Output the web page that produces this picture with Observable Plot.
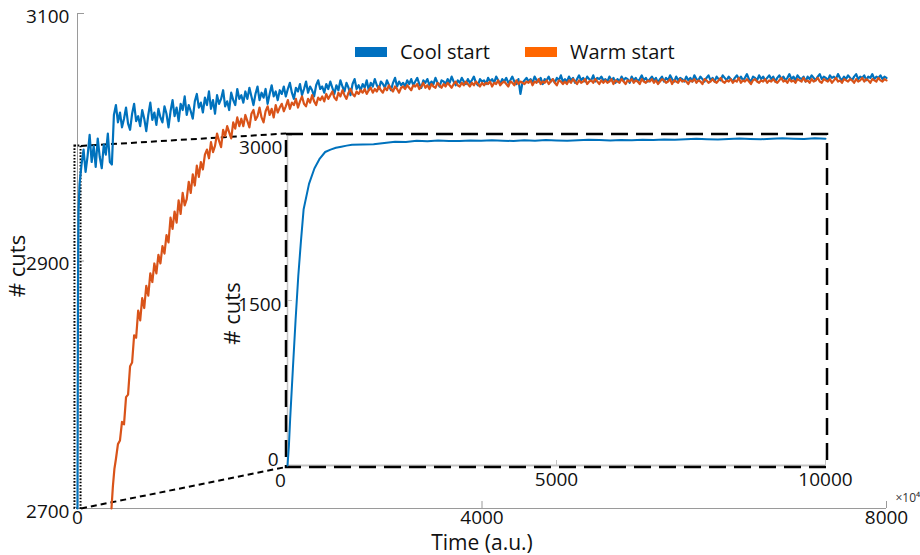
<!DOCTYPE html>
<html>
<head>
<meta charset="utf-8">
<script src="https://cdn.jsdelivr.net/npm/d3@7"></script>
<script src="https://cdn.jsdelivr.net/npm/@observablehq/plot@0.6"></script>
<style>
  body { margin: 0; background: #fff; }
  #wrap { position: relative; width: 920px; height: 555px; font-family: "Open Sans", sans-serif; }
  #wrap svg { position: absolute; left: 0; top: 0; background: transparent; overflow: visible; }
  .leg { position: absolute; top: 38px; display: flex; align-items: center; font-size: 20px; color: #111; white-space: nowrap; }
  .leg span.sw { display: inline-block; width: 32px; height: 10px; margin-right: 13px; }
</style>
</head>
<body>
<div id="wrap">
  <div class="leg" style="left:355px"><span class="sw" style="background:#0070C0"></span><span id="l1"></span></div>
  <div class="leg" style="left:525px"><span class="sw" style="background:#FF6600"></span><span id="l2"></span></div>
</div>
<script>
// ---------- data ----------
const seriesNames = ["Cool start", "Warm start"];
const seriesColors = ["#0072BD", "#D95319"];

const xTicks = [0, 4000, 8000];
const yTicks = [2700, 2900, 3100];
const xDomain = [0, 8000];
const yDomain = [2700, 3100];

// Cool start: initial rise, then a sample every 20 time units from t = 20
const coolEarlyT = [0, 5, 10];
const coolEarlyV = [2700, 2880, 2940];
const coolT0 = 20;
const coolStep = 20;
const coolV = [
  2962, 2978, 2990, 2972, 2985, 3002, 2980, 2993, 2976, 2999, 2984, 2975, 2994, 2986, 3003, 2980, 2978, 3018, 3026, 3012,
  3020, 3008, 3015, 3024, 3011, 3006, 3019, 3027, 3013, 3017, 3009, 3022, 3015, 3005, 3018, 3028, 3014, 3020, 3010, 3023,
  3016, 3012, 3025, 3019, 3008, 3021, 3030, 3017, 3024, 3013, 3027, 3022, 3033, 3018, 3026, 3021, 3015, 3029, 3035, 3024,
  3028, 3020, 3032, 3026, 3037, 3023, 3030, 3019, 3034, 3027, 3031, 3038, 3025, 3029, 3022, 3036, 3030, 3026, 3039, 3031,
  3034, 3028, 3037, 3031, 3040, 3033, 3026, 3035, 3041, 3030, 3036, 3032, 3039, 3027, 3035, 3042, 3033, 3037, 3030, 3038,
  3035, 3041, 3033, 3039, 3044, 3036, 3031, 3040, 3037, 3043, 3034, 3039, 3045, 3036, 3041, 3038, 3033, 3042, 3046, 3039,
  3041, 3036, 3043, 3039, 3045, 3040, 3035, 3042, 3038, 3046, 3041, 3037, 3044, 3040, 3034, 3043, 3047, 3039, 3042, 3038,
  3043, 3040, 3046, 3038, 3044, 3041, 3047, 3042, 3039, 3045, 3043, 3040, 3046, 3042, 3038, 3044, 3048, 3041, 3045, 3042,
  3044, 3041, 3046, 3043, 3047, 3042, 3045, 3048, 3043, 3040, 3046, 3044, 3047, 3042, 3045, 3043, 3048, 3044, 3041, 3046,
  3045, 3043, 3047, 3044, 3049, 3045, 3042, 3046, 3044, 3048, 3045, 3043, 3047, 3044, 3046, 3049, 3044, 3042, 3047, 3045,
  3046, 3043, 3048, 3045, 3047, 3044, 3049, 3046, 3043, 3047, 3045, 3048, 3044, 3046, 3049, 3045, 3043, 3047, 3035, 3044,
  3046, 3048, 3045, 3047, 3044, 3049, 3046, 3045, 3048, 3043, 3047, 3046, 3049, 3045, 3047, 3044, 3048, 3046, 3050, 3045,
  3047, 3045, 3049, 3046, 3048, 3044, 3047, 3050, 3046, 3048, 3045, 3049, 3047, 3046, 3050, 3045, 3048, 3047, 3049, 3046,
  3047, 3045, 3049, 3046, 3048, 3044, 3047, 3045, 3049, 3046, 3048, 3047, 3044, 3049, 3046, 3048, 3045, 3047, 3050, 3046,
  3048, 3045, 3047, 3049, 3046, 3048, 3044, 3047, 3049, 3045, 3048, 3046, 3050, 3047, 3045, 3049, 3046, 3048, 3047, 3045,
  3049, 3046, 3048, 3045, 3050, 3047, 3046, 3049, 3047, 3045, 3048, 3050, 3046, 3048, 3045, 3049, 3047, 3046, 3050, 3048,
  3046, 3049, 3047, 3045, 3048, 3050, 3047, 3049, 3046, 3048, 3051, 3047, 3045, 3049, 3048, 3046, 3050, 3047, 3049, 3046,
  3048, 3050, 3047, 3049, 3045, 3048, 3050, 3047, 3049, 3046, 3048, 3051, 3047, 3049, 3046, 3050, 3048, 3047, 3049, 3045,
  3049, 3047, 3050, 3048, 3046, 3049, 3051, 3047, 3049, 3048, 3046, 3050, 3048, 3049, 3047, 3051, 3048, 3046, 3049, 3047,
  3050, 3048, 3046, 3049, 3051, 3047, 3049, 3048, 3050, 3046, 3049, 3048, 3051, 3047, 3049, 3048, 3050, 3047, 3049, 3048
];

// Warm start: enters the view at t = 336, then a sample every 20 from t = 420
const warmEarlyT = [336, 350, 365, 380, 400];
const warmEarlyV = [2700, 2718, 2732, 2740, 2752];
const warmT0 = 420;
const warmStep = 20;
const warmV = [
  2755, 2770, 2768, 2790, 2792, 2815, 2818, 2840, 2838, 2860, 2852, 2870, 2862, 2880, 2872, 2890, 2883, 2898, 2890, 2905,
  2898, 2912, 2906, 2921, 2915, 2935, 2926, 2940, 2931, 2949, 2938, 2955, 2945, 2950, 2964, 2955, 2970, 2961, 2977, 2968,
  2980, 2974, 2986, 2990, 2983, 2996, 2988, 2993, 3003, 2997, 2992, 3006, 3001, 3009, 3004, 2999, 3012, 3007, 3016, 3009,
  3015, 3009, 3018, 3013, 3008, 3019, 3022, 3014, 3017, 3024, 3016, 3012, 3021, 3025, 3018, 3023, 3016, 3026, 3020, 3024,
  3027, 3021, 3025, 3030, 3023, 3028, 3026, 3031, 3024, 3029, 3033, 3027, 3025, 3031, 3028, 3034, 3029, 3026, 3032, 3030,
  3033, 3029, 3035, 3031, 3034, 3037, 3032, 3030, 3036, 3033, 3038, 3034, 3031, 3036, 3039, 3035, 3033, 3037, 3035, 3038,
  3036, 3039, 3035, 3038, 3040, 3036, 3039, 3037, 3041, 3038, 3036, 3040, 3038, 3042, 3039, 3037, 3041, 3039, 3036, 3040,
  3041, 3039, 3042, 3040, 3038, 3042, 3041, 3043, 3039, 3041, 3044, 3040, 3042, 3039, 3043, 3041, 3040, 3044, 3042, 3040,
  3043, 3041, 3044, 3042, 3040, 3043, 3045, 3042, 3041, 3044, 3042, 3045, 3043, 3041, 3044, 3042, 3045, 3043, 3041, 3044,
  3042, 3044, 3043, 3045, 3041, 3044, 3043, 3046, 3042, 3044, 3045, 3043, 3041, 3045, 3044, 3042, 3046, 3043, 3045, 3044,
  3043, 3045, 3044, 3046, 3042, 3045, 3044, 3047, 3043, 3045, 3044, 3046, 3043, 3045, 3047, 3044, 3042, 3046, 3045, 3043,
  3045, 3043, 3046, 3044, 3047, 3045, 3043, 3046, 3044, 3045, 3047, 3043, 3045, 3046, 3044, 3047, 3045, 3043, 3046, 3044,
  3046, 3044, 3045, 3047, 3043, 3046, 3045, 3044, 3047, 3045, 3043, 3046, 3045, 3047, 3044, 3046, 3045, 3043, 3047, 3045,
  3044, 3046, 3045, 3047, 3044, 3046, 3043, 3045, 3047, 3046, 3044, 3045, 3047, 3043, 3046, 3045, 3044, 3047, 3045, 3046,
  3045, 3043, 3046, 3045, 3047, 3044, 3046, 3045, 3043, 3047, 3046, 3044, 3045, 3047, 3045, 3044, 3046, 3048, 3045, 3044,
  3046, 3045, 3047, 3044, 3046, 3045, 3048, 3044, 3046, 3045, 3047, 3045, 3043, 3046, 3047, 3045, 3044, 3046, 3045, 3047,
  3044, 3046, 3045, 3047, 3045, 3044, 3046, 3048, 3045, 3046, 3044, 3047, 3045, 3046, 3044, 3047, 3046, 3045, 3048, 3045,
  3046, 3044, 3047, 3045, 3046, 3048, 3045, 3044, 3047, 3046, 3045, 3047, 3044, 3046, 3048, 3045, 3046, 3044, 3047, 3046,
  3045, 3047, 3046, 3044, 3047, 3045, 3046, 3048, 3045, 3047, 3046, 3044, 3047, 3046, 3045, 3048, 3046, 3045, 3047, 3046
];

// Inset (full run of Cool start)
const insetXTicks = [0, 5000, 10000];
const insetYTicks = [0, 1500, 3000];
const insetXDomain = [0, 10000];
const insetYDomain = [0, 3000];
const insetRiseT = [0, 25, 50, 100, 150, 200, 250, 300, 400, 500, 600, 700, 800, 900, 1000, 1100];
const insetRiseV = [0, 170, 430, 880, 1320, 1720, 2040, 2330, 2560, 2700, 2790, 2850, 2872, 2888, 2898, 2908];
const insetT0 = 1200;
const insetStep = 200;
const insetV = [
  2915, 2918, 2920, 2932, 2944, 2940, 2952, 2948, 2955, 2951,
  2949, 2955, 2952, 2957, 2953, 2950, 2956, 2953, 2958, 2955,
  2952, 2957, 2961, 2958, 2955, 2960, 2957, 2962, 2959, 2964,
  2961, 2966, 2970, 2966, 2963, 2968, 2972, 2969, 2966, 2971,
  2975, 2971, 2968, 2974, 2971
];

// Magnified region of the main plot (data units)
const zoomX = [-25, 35];
const zoomY = [2700, 2993];

// ---------- build tables ----------
const cool = coolEarlyT.map((t, i) => ({t, v: coolEarlyV[i]}))
  .concat(coolV.map((v, i) => ({t: coolT0 + coolStep * i, v})));
const warm = warmEarlyT.map((t, i) => ({t, v: warmEarlyV[i]}))
  .concat(warmV.map((v, i) => ({t: warmT0 + warmStep * i, v})));
const inset = insetRiseT.map((t, i) => ({t, v: insetRiseV[i]}))
  .concat(insetV.map((v, i) => ({t: insetT0 + insetStep * i, v})));

// ---------- layout ----------
const W = 920, H = 555;
const M = {left: 77, right: 34, top: 13, bottom: 47};
const IM = {left: 287, right: 95, top: 135, bottom: 90};
const axisGray = "#9a9a9a";
const insetGray = "#c4c4c4";
const font = "Open Sans";
const tickFont = 19;
const labelFont = 21;

const mx = Plot.scale({x: {domain: xDomain, range: [M.left, W - M.right]}});
const my = Plot.scale({y: {domain: yDomain, range: [H - M.bottom, M.top]}});
// inset dashed-border corners in main data coordinates
const boxLeft = mx.invert(IM.left - 1.5);
const boxTop = my.invert(IM.top - 2);
const boxBottom = my.invert(H - IM.bottom + 1.5);

const links = [
  {x1: zoomX[1], y1: zoomY[1], x2: boxLeft, y2: boxTop},
  {x1: zoomX[1], y1: zoomY[0], x2: boxLeft, y2: boxBottom}
];

const fmt = d => String(d);

const main = Plot.plot({
  width: W, height: H,
  marginLeft: M.left, marginRight: M.right, marginTop: M.top, marginBottom: M.bottom,
  x: {domain: xDomain, label: null},
  y: {domain: yDomain, label: null},
  style: {fontFamily: font, fontSize: tickFont + "px", color: "#111", background: "transparent"},
  marks: [
    Plot.ruleX([xDomain[0]], {stroke: axisGray, strokeWidth: 1}),
    Plot.ruleY([yDomain[0]], {stroke: axisGray, strokeWidth: 1}),
    Plot.ruleX(xTicks, {x: d => d, y1: yDomain[0], y2: yDomain[0], insetBottom: 7, stroke: axisGray}),
    Plot.ruleY(yTicks, {y: d => d, x1: xDomain[0], x2: xDomain[0], insetRight: -7, stroke: axisGray}),
    Plot.axisX({ticks: xTicks, tickSize: 0, tickPadding: 2, tickFormat: fmt, fontSize: tickFont, label: null}),
    Plot.axisY({ticks: yTicks, tickSize: 0, tickPadding: 8, tickFormat: fmt, fontSize: tickFont, dy: 3, label: null}),
    Plot.text(["# cuts"], {frameAnchor: "left", dx: -60, dy: 5, rotate: -90, textAnchor: "middle", lineAnchor: "middle", fontSize: 22, fill: "#111"}),
    Plot.text(["Time (a.u.)"], {frameAnchor: "bottom", dy: 35, textAnchor: "middle", lineAnchor: "middle", fontSize: labelFont, fill: "#111"}),
    Plot.text(["×10⁴"], {frameAnchor: "bottom-right", dx: 9, dy: -10, textAnchor: "start", lineAnchor: "middle", fontSize: 12, fill: "#333"}),
    Plot.rect([0], {x1: zoomX[0], x2: zoomX[1], y1: zoomY[0], y2: zoomY[1], fill: "none", stroke: "#000", strokeWidth: 2, strokeDasharray: "1.6,1.6"}),
    Plot.link(links, {x1: "x1", y1: "y1", x2: "x2", y2: "y2", stroke: "#000", strokeWidth: 2, strokeDasharray: "6,4"}),
    Plot.line(cool, {x: "t", y: "v", stroke: seriesColors[0], strokeWidth: 2.2}),
    Plot.line(warm, {x: "t", y: "v", stroke: seriesColors[1], strokeWidth: 2.2})
  ]
});

const insetPlot = Plot.plot({
  width: W, height: H,
  marginLeft: IM.left, marginRight: IM.right, marginTop: IM.top, marginBottom: IM.bottom,
  x: {domain: insetXDomain, label: null},
  y: {domain: insetYDomain, label: null},
  style: {fontFamily: font, fontSize: tickFont + "px", color: "#111", background: "transparent"},
  marks: [
    Plot.ruleX([insetXDomain[0]], {stroke: insetGray, strokeWidth: 1.5}),
    Plot.ruleY([insetYDomain[0]], {stroke: insetGray, strokeWidth: 2}),
    Plot.ruleX(insetXTicks, {x: d => d, y1: insetYDomain[0], y2: insetYDomain[0], insetBottom: 5, stroke: insetGray}),
    Plot.ruleY(insetYTicks, {y: d => d, x1: insetXDomain[0], x2: insetXDomain[0], insetRight: -5, stroke: insetGray}),
    Plot.frame({stroke: "#000", strokeWidth: 2.5, strokeDasharray: "17,8", inset: -1.5}),
    Plot.axisX({ticks: insetXTicks.slice(0, 1), tickSize: 0, tickPadding: 8, tickFormat: fmt, fontSize: tickFont, dx: -7, label: null}),
    Plot.axisX({ticks: insetXTicks.slice(1), tickSize: 0, tickPadding: 7, tickFormat: fmt, fontSize: tickFont, label: null}),
    Plot.axisY({ticks: insetYTicks.slice(0, 1), tickSize: 0, tickPadding: 9, tickFormat: fmt, fontSize: tickFont, dy: -6, label: null}),
    Plot.axisY({ticks: insetYTicks.slice(1, 2), tickSize: 0, tickPadding: 6, tickFormat: fmt, fontSize: tickFont, dy: 4, label: null}),
    Plot.axisY({ticks: insetYTicks.slice(2), tickSize: 0, tickPadding: 5, tickFormat: fmt, fontSize: tickFont, dy: 12, label: null}),
    Plot.text(["# cuts"], {frameAnchor: "left", dx: -55, dy: 13, rotate: -90, textAnchor: "middle", lineAnchor: "middle", fontSize: 22, fill: "#111"}),
    Plot.line(inset, {x: "t", y: "v", stroke: seriesColors[0], strokeWidth: 2})
  ]
});

const wrap = document.getElementById("wrap");
wrap.prepend(insetPlot);
wrap.prepend(main);
document.getElementById("l1").textContent = seriesNames[0];
document.getElementById("l2").textContent = seriesNames[1];
</script>
</body>
</html>
